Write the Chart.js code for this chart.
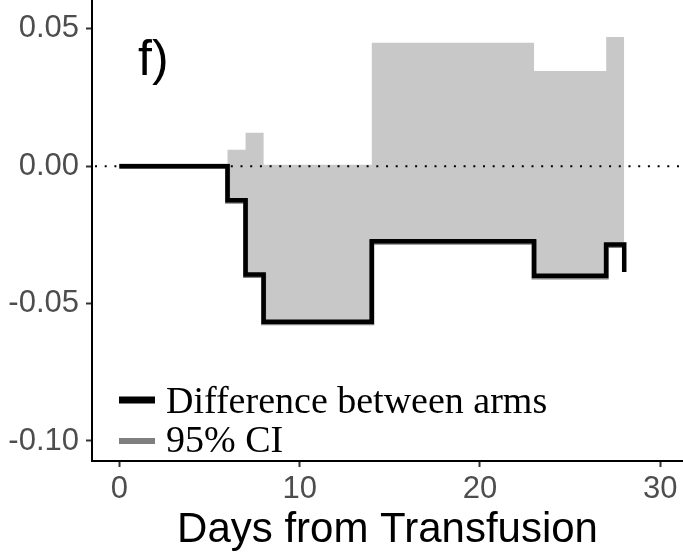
<!DOCTYPE html>
<html>
<head>
<meta charset="utf-8">
<script src="https://cdn.jsdelivr.net/npm/chart.js@4/dist/chart.umd.min.js"></script>
<style>
  html, body { margin: 0; padding: 0; background: #ffffff; }
  #wrap { width: 683px; height: 552px; position: relative; }
</style>
</head>
<body>
<div id="wrap"><canvas id="c" width="683" height="552"></canvas></div>
<script>
// ---- data ----
const days      = [0, 6, 7, 8, 14, 23, 27, 28];
const diffVals  = [0, -0.0124, -0.0394, -0.0566, -0.0273, -0.0399, -0.0285, -0.0385];
const ciLower   = [0, -0.0128, -0.0398, -0.0570, -0.0277, -0.0403, -0.0289, -0.0289];
const ciUpper   = [0, 0.0060, 0.0121, 0.0005, 0.0449, 0.0346, 0.0470, 0.0470];
const xTicks    = [0, 10, 20, 30];
const yTicks    = [-0.10, -0.05, 0.00, 0.05];
const panelLabel = 'f)';
const xTitle = 'Days from Transfusion';
const legendItems = ['Difference between arms', '95% CI'];

const toPts = (xs, ys) => xs.map((x, i) => ({ x: x, y: ys[i] }));

const overlay = {
  id: 'overlay',
  beforeDatasetsDraw(chart) {
    const { ctx, chartArea, scales } = chart;
    const y0 = scales.y.getPixelForValue(0);
    ctx.save();
    ctx.strokeStyle = '#000';
    ctx.lineWidth = 2;
    ctx.setLineDash([2, 7.7]);
    ctx.beginPath();
    ctx.moveTo(chartArea.left + 3, y0);
    ctx.lineTo(chartArea.right, y0);
    ctx.stroke();
    ctx.restore();
  },
  afterDraw(chart) {
    const { ctx, chartArea } = chart;
    ctx.save();
    // panel label
    ctx.fillStyle = '#000';
    ctx.font = '50px "Liberation Sans", Arial, sans-serif';
    ctx.textBaseline = 'alphabetic';
    ctx.textAlign = 'left';
    ctx.fillText(panelLabel, 138, 75);
    // legend
    ctx.lineCap = 'butt';
    ctx.strokeStyle = '#000';
    ctx.lineWidth = 7;
    ctx.beginPath(); ctx.moveTo(119, 400); ctx.lineTo(155, 400); ctx.stroke();
    ctx.strokeStyle = '#7f7f7f';
    ctx.lineWidth = 6;
    ctx.beginPath(); ctx.moveTo(119, 441); ctx.lineTo(155, 441); ctx.stroke();
    ctx.font = '38px "Liberation Serif", "Times New Roman", serif';
    ctx.fillStyle = '#000';
    ctx.fillText(legendItems[0], 166, 413);
    ctx.fillText(legendItems[1], 166, 452);
    // x title
    ctx.font = '42px "Liberation Sans", Arial, sans-serif';
    ctx.textAlign = 'center';
    ctx.fillText(xTitle, (chartArea.left + chartArea.right) / 2, 542);
    ctx.restore();
  }
};

new Chart(document.getElementById('c'), {
  type: 'line',
  data: {
    datasets: [
      { label: legendItems[0], data: toPts(days, diffVals), stepped: true,
        borderColor: '#000', borderWidth: 4.5, pointRadius: 0, fill: false,
        borderCapStyle: 'butt', borderJoinStyle: 'miter' },
      { label: 'upper', data: toPts(days, ciUpper), stepped: true,
        borderWidth: 0, borderColor: 'rgba(0,0,0,0)', pointRadius: 0,
        fill: '+1', backgroundColor: 'rgb(200,200,200)' },
      { label: legendItems[1], data: toPts(days, ciLower), stepped: true,
        borderColor: '#7f7f7f', borderWidth: 5, pointRadius: 0, fill: false,
        borderCapStyle: 'butt', borderJoinStyle: 'miter' }
    ]
  },
  options: {
    responsive: false,
    animation: false,
    devicePixelRatio: 1,
    layout: { padding: 0 },
    plugins: {
      legend: { display: false },
      tooltip: { enabled: false },
      filler: { drawTime: 'beforeDatasetsDraw' }
    },
    scales: {
      x: {
        type: 'linear', min: -1.517, max: 31.26,
        afterBuildTicks: s => { s.ticks = xTicks.map(v => ({ value: v })); },
        afterFit: s => { s.height = 91; s.paddingLeft = 0; s.paddingRight = 0; },
        grid: { drawOnChartArea: false, tickLength: 6, tickWidth: 2, tickColor: '#333' },
        border: { display: true, color: '#000', width: 2 },
        ticks: { color: '#4d4d4d', padding: 4, font: { family: '"Liberation Sans", Arial, sans-serif', size: 31 },
                 callback: v => String(v), maxRotation: 0 }
      },
      y: {
        type: 'linear', min: -0.10728, max: 0.06044,
        afterBuildTicks: s => { s.ticks = yTicks.map(v => ({ value: v })); },
        afterFit: s => { s.width = 92; s.paddingTop = 0; s.paddingBottom = 0; },
        grid: { drawOnChartArea: false, tickLength: 6, tickWidth: 2, tickColor: '#333' },
        border: { display: true, color: '#000', width: 2 },
        ticks: { color: '#4d4d4d', padding: 7, font: { family: '"Liberation Sans", Arial, sans-serif', size: 31 },
                 callback: v => v.toFixed(2) }
      }
    }
  },
  plugins: [overlay]
});
</script>
</body>
</html>
